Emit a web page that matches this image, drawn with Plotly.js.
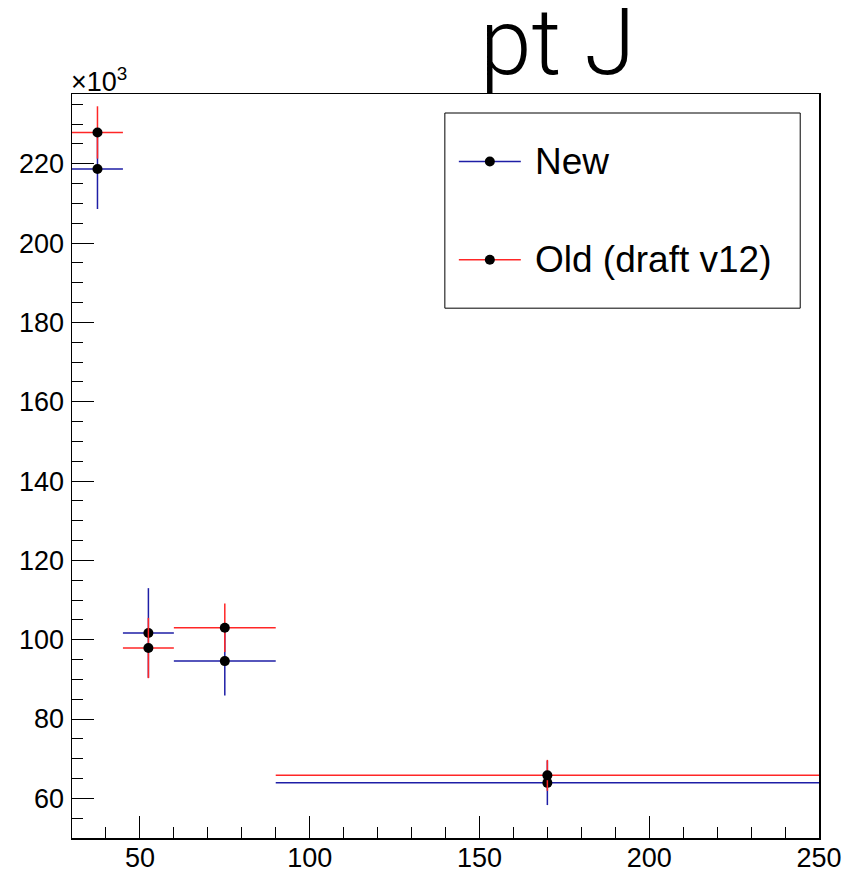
<!DOCTYPE html>
<html>
<head>
<meta charset="utf-8">
<script src="https://cdn.plot.ly/plotly-3.0.1.min.js"></script>
<style>html,body{margin:0;padding:0;background:#fff;}#chart{width:851px;height:878px;}</style>
</head>
<body>
<div id="chart"></div>
<script>
// ---- data (values in units of 10^3) ----
const binCenters = [37.5, 52.5, 75, 170];
const binHalfWidths = [7.5, 7.5, 15, 80];
const newValues = [218.7, 101.7, 94.6, 63.9];
const newErrors = [10.1, 11.3, 8.7, 5.6];
const oldValues = [227.9, 97.9, 103.0, 65.8];
const oldErrors = [6.6, 7.6, 6.1, 3.9];
const seriesNames = ["New", "Old (draft v12)"];
const chartTitle = "pt J";
const yMultiplier = "×10<sup>3</sup>";

const blue = "#1e1ea6";
const red = "#ff2626";

// plot area in pixels
const W = 851, H = 878;
const L = 72, R = 819.3, T = 94.3, B = 837.7;
const px = x => (x - L) / (R - L);
const py = y => (B - y) / (B - T);

function series(name, xs, ys, ex, ey, color) {
  return {
    type: "scatter", mode: "markers", name: name, showlegend: false,
    x: xs, y: ys,
    marker: {color: "black", size: 10},
    error_x: {type: "data", array: ex, symmetric: true, color: color, thickness: 1.5, width: 0},
    error_y: {type: "data", array: ey, symmetric: true, color: color, thickness: 1.5, width: 0},
    cliponaxis: false
  };
}

const data = [
  series(seriesNames[0], binCenters, newValues, binHalfWidths, newErrors, blue),
  series(seriesNames[1], binCenters, oldValues, binHalfWidths, oldErrors, red)
];

const axisFont = {family: "Liberation Sans, Arial, sans-serif", size: 27, color: "black"};

// manual legend (ROOT-style box)
const legBox = {x0: 445, x1: 800.5, y0: 113.3, y1: 308.3};
const legRows = [161.7, 260];
const legColors = [blue, red];
const shapes = [
  {type: "rect", xref: "paper", yref: "paper",
   x0: px(legBox.x0), x1: px(legBox.x1), y0: py(legBox.y1), y1: py(legBox.y0),
   line: {color: "black", width: 1}, fillcolor: "white", layer: "above"}
];
const annotations = [
  {xref: "paper", yref: "paper", x: px(557.5), y: py(42.5), xanchor: "center", yanchor: "middle",
   text: chartTitle, showarrow: false,
   font: {family: "Roboto, Liberation Sans, sans-serif", weight: 300, size: 93, color: "black"}},
  {xref: "paper", yref: "paper", x: px(69), y: py(80), xanchor: "left", yanchor: "middle",
   text: yMultiplier, showarrow: false,
   font: {family: "Liberation Sans, Arial, sans-serif", size: 27, color: "black"}}
];
legRows.forEach((yy, i) => {
  shapes.push({type: "line", xref: "paper", yref: "paper",
    x0: px(459), x1: px(521), y0: py(yy), y1: py(yy),
    line: {color: legColors[i], width: 1.5}, layer: "above"});
  shapes.push({type: "circle", xref: "paper", yref: "paper",
    xsizemode: "pixel", ysizemode: "pixel", xanchor: px(490), yanchor: py(yy),
    x0: -5, x1: 5, y0: -5, y1: 5,
    fillcolor: "black", line: {color: "black", width: 0}, layer: "above"});
  annotations.push({xref: "paper", yref: "paper", x: px(533), y: py(yy),
    xanchor: "left", yanchor: "middle", text: seriesNames[i], showarrow: false,
    font: {family: "Liberation Sans, Arial, sans-serif", size: 37, color: "black"}});
});

const layout = {
  width: W, height: H,
  margin: {l: L, r: W - R, t: T, b: H - B, pad: 0},
  paper_bgcolor: "white", plot_bgcolor: "white",
  showlegend: false,
  xaxis: {
    range: [30, 250], tick0: 0, dtick: 50, ticks: "inside", ticklen: 22, tickwidth: 1, tickcolor: "black",
    minor: {ticks: "inside", ticklen: 11, dtick: 10, tick0: 0, tickcolor: "black", tickwidth: 1, showgrid: false},
    showline: true, linecolor: "black", linewidth: 1.5, mirror: true,
    showgrid: false, zeroline: false, tickfont: axisFont, ticklabelstandoff: -5
  },
  yaxis: {
    range: [50, 237.6], tick0: 0, dtick: 20, ticks: "inside", ticklen: 22, tickwidth: 1, tickcolor: "black",
    minor: {ticks: "inside", ticklen: 11, dtick: 5, tick0: 0, tickcolor: "black", tickwidth: 1, showgrid: false},
    showline: true, linecolor: "black", linewidth: 1.5, mirror: true,
    showgrid: false, zeroline: false, tickfont: axisFont, ticklabelstandoff: 1
  },
  shapes: shapes,
  annotations: annotations
};

Plotly.newPlot("chart", data, layout, {staticPlot: true, displayModeBar: false});
</script>
</body>
</html>
